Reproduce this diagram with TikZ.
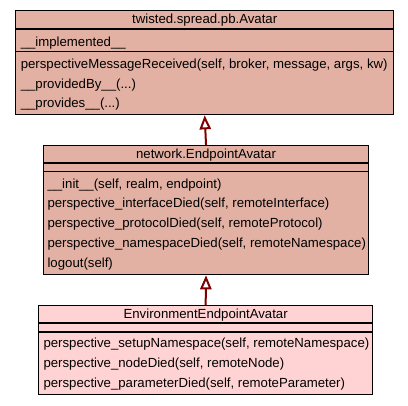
\documentclass[tikz,border=0pt]{standalone}
\usepackage{fontspec}
\setmainfont{Liberation Sans}
\usetikzlibrary{arrows.meta,calc,positioning}

\definecolor{baseclass}{RGB}{226,177,163}
\definecolor{ownclass}{RGB}{255,211,211}
\definecolor{inherit}{RGB}{128,0,0}

\tikzset{
  classbox/.style={draw=black, line width=1pt, inner sep=0pt, anchor=north west},
  classname/.style={anchor=base, inner sep=0pt},
  member/.style={anchor=base west, inner sep=0pt},
  extends/.style={draw=inherit, line width=1.5pt,
    -{Triangle[open, length=10.5pt, width=8.5pt]}}
}

\begin{document}
\begin{tikzpicture}[x=0.75pt, y=-0.75pt, font=\fontsize{9.9pt}{12pt}\selectfont]
    \useasboundingbox (0,0) rectangle (408,405);

    % twisted.spread.pb.Avatar
    \node[classbox, fill=baseclass, minimum width=283.5pt, minimum height=78pt]
      (avatar) at (15,10) {};
    \draw[line width=1pt] ($(avatar.north west)+(0,19)$) -- ($(avatar.north east)+(0,19)$);
    \draw[line width=1pt] ($(avatar.north west)+(0,41.5)$) -- ($(avatar.north east)+(0,41.5)$);
    \node[classname] (avatar name) at ($(avatar.north)+(0,13.3)$) {twisted.spread.pb.Avatar};
    \node[member] (implemented) at (20.5,46) {\_\_implemented\_\_};
    \node[member] (received) at (20.5,68) {perspectiveMessageReceived(self, broker, message, args, kw)};
    \node[member] (providedby) at (20.5,88) {\_\_providedBy\_\_(...)};
    \node[member] (provides) at (20.5,107.5) {\_\_provides\_\_(...)};

    % network.EndpointAvatar
    \node[classbox, fill=baseclass, minimum width=244pt, minimum height=96.75pt]
      (endpoint) at (42.7,145) {};
    \draw[line width=1pt] ($(endpoint.north west)+(0,18)$) -- ($(endpoint.north east)+(0,18)$);
    \draw[line width=1pt] ($(endpoint.north west)+(0,26.7)$) -- ($(endpoint.north east)+(0,26.7)$);
    \node[classname] (endpoint name) at ($(endpoint.north)+(0,13.6)$) {network.EndpointAvatar};
    \node[member] (init) at (47.3,188.3) {\_\_init\_\_(self, realm, endpoint)};
    \node[member] (interfacedied) at (47.3,207.8) {perspective\_interfaceDied(self, remoteInterface)};
    \node[member] (protocoldied) at (47.3,227.6) {perspective\_protocolDied(self, remoteProtocol)};
    \node[member] (namespacedied) at (47.3,247.4) {perspective\_namespaceDied(self, remoteNamespace)};
    \node[member] (logout) at (47.3,267.2) {logout(self)};

    % EnvironmentEndpointAvatar
    \node[classbox, fill=ownclass, minimum width=250.5pt, minimum height=66.75pt]
      (envendpoint) at (38,305) {};
    \draw[line width=1pt] ($(envendpoint.north west)+(0,18)$) -- ($(envendpoint.north east)+(0,18)$);
    \draw[line width=1pt] ($(envendpoint.north west)+(0,27)$) -- ($(envendpoint.north east)+(0,27)$);
    \node[classname] (envendpoint name) at ($(envendpoint.north)+(0,13.3)$) {EnvironmentEndpointAvatar};
    \node[member] (setupnamespace) at (43.3,347.5) {perspective\_setupNamespace(self, remoteNamespace)};
    \node[member] (nodedied) at (43.3,367.4) {perspective\_nodeDied(self, remoteNode)};
    \node[member] (parameterdied) at (43.3,387.2) {perspective\_parameterDied(self, remoteParameter)};

    \draw[extends] (endpoint.north) -- (avatar.south);
    \draw[extends] (envendpoint.north) -- (endpoint.south);
\end{tikzpicture}
\end{document}
